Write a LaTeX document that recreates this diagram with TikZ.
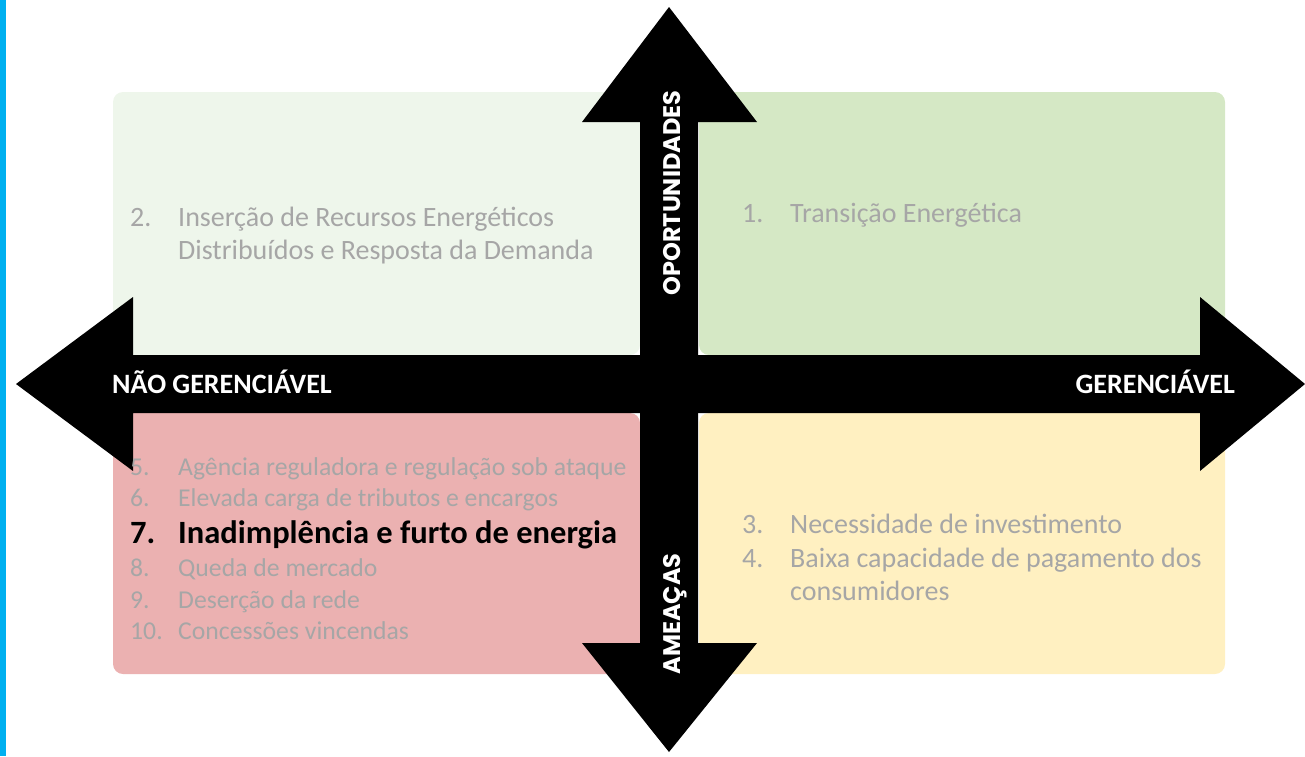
\documentclass[tikz,border=0pt]{standalone}
\usepackage{fontspec}
\setmainfont{Carlito}
\newfontfamily\axisfont{Poppins}
\definecolor{stripblue}{RGB}{0,176,240}
\definecolor{boxlight}{RGB}{238,246,235}
\definecolor{boxgreen}{RGB}{213,232,197}
\definecolor{boxpink}{RGB}{235,177,177}
\definecolor{boxyellow}{RGB}{255,240,193}
\definecolor{itemgray}{RGB}{166,166,166}
\tikzset{
  item/.style={anchor=base west,inner sep=0pt,text=itemgray,font=\fontsize{28}{34}\selectfont},
  itemsmall/.style={item,font=\fontsize{25.7}{31}\selectfont},
  itembold/.style={item,text=black,font=\bfseries\fontsize{32.5}{38}\selectfont},
  axislabel/.style={inner sep=0pt,text=white,font=\bfseries\fontsize{28}{34}\selectfont},
  vlabel/.style={inner sep=0pt,text=white,rotate=90,anchor=base,font=\axisfont\bfseries\fontsize{24}{28}\selectfont}
}
\begin{document}
\begin{tikzpicture}[x=1pt,y=-1pt]
      \useasboundingbox (0,0) rectangle (1305,756);
      \fill[stripblue] (0,0) rectangle (6,756);
      % quadrants
      \fill[boxlight,rounded corners=10pt] (113,92) rectangle (640,355);
      \fill[boxgreen,rounded corners=10pt] (699,92) rectangle (1225,355);
      \fill[boxpink,rounded corners=10pt] (113,413) rectangle (640,674);
      \fill[boxyellow,rounded corners=10pt] (699,413) rectangle (1225,674);
      % axes
      \fill[black] (16,384)--(133,297)--(133,355)--(1200,355)--(1200,297)--(1305,384)
        --(1200,471)--(1200,413)--(133,413)--(133,471)--cycle;
      \fill[black] (669,7)--(757,122)--(698,122)--(698,643)--(757,643)--(669,752)
        --(582,643)--(640,643)--(640,122)--(582,122)--cycle;
      \node[axislabel,anchor=base west] (nao) at (112,393) {NÃO GERENCIÁVEL};
      \node[axislabel,anchor=base east] (ger) at (1235,393) {GERENCIÁVEL};
      \node[vlabel] (opo) at (680,193) {OPORTUNIDADES};
      \node[vlabel] (ame) at (680,614) {AMEAÇAS};
      % top left
      \node[item] (n2) at (130,226) {2.};
      \node[item] (t2a) at (178,226) {Inserção de Recursos Energéticos};
      \node[item] (t2b) at (178,259) {Distribuídos e Resposta da Demanda};
      % top right
      \node[item] (n1) at (742,222) {1.};
      \node[item] (t1) at (790,222) {Transição Energética};
      % bottom right
      \node[item] (n3) at (742,533) {3.};
      \node[item] (t3) at (790,533) {Necessidade de investimento};
      \node[item] (n4) at (742,567) {4.};
      \node[item] (t4a) at (790,567) {Baixa capacidade de pagamento dos};
      \node[item] (t4b) at (790,600) {consumidores};
      % bottom left
      \node[itemsmall] (n5) at (130,475) {5.};
      \node[itemsmall] (t5) at (178,475) {Agência reguladora e regulação sob ataque};
      \node[itemsmall] (n6) at (130,506) {6.};
      \node[itemsmall] (t6) at (178,506) {Elevada carga de tributos e encargos};
      \node[itembold] (n7) at (130,543) {7.};
      \node[itembold] (t7) at (178,543) {Inadimplência e furto de energia};
      \node[itemsmall] (n8) at (130,576) {8.};
      \node[itemsmall] (t8) at (178,576) {Queda de mercado};
      \node[itemsmall] (n9) at (130,608) {9.};
      \node[itemsmall] (t9) at (178,608) {Deserção da rede};
      \node[itemsmall] (n10) at (130,639) {10.};
      \node[itemsmall] (t10) at (178,639) {Concessões vincendas};
    \end{tikzpicture}
\end{document}
